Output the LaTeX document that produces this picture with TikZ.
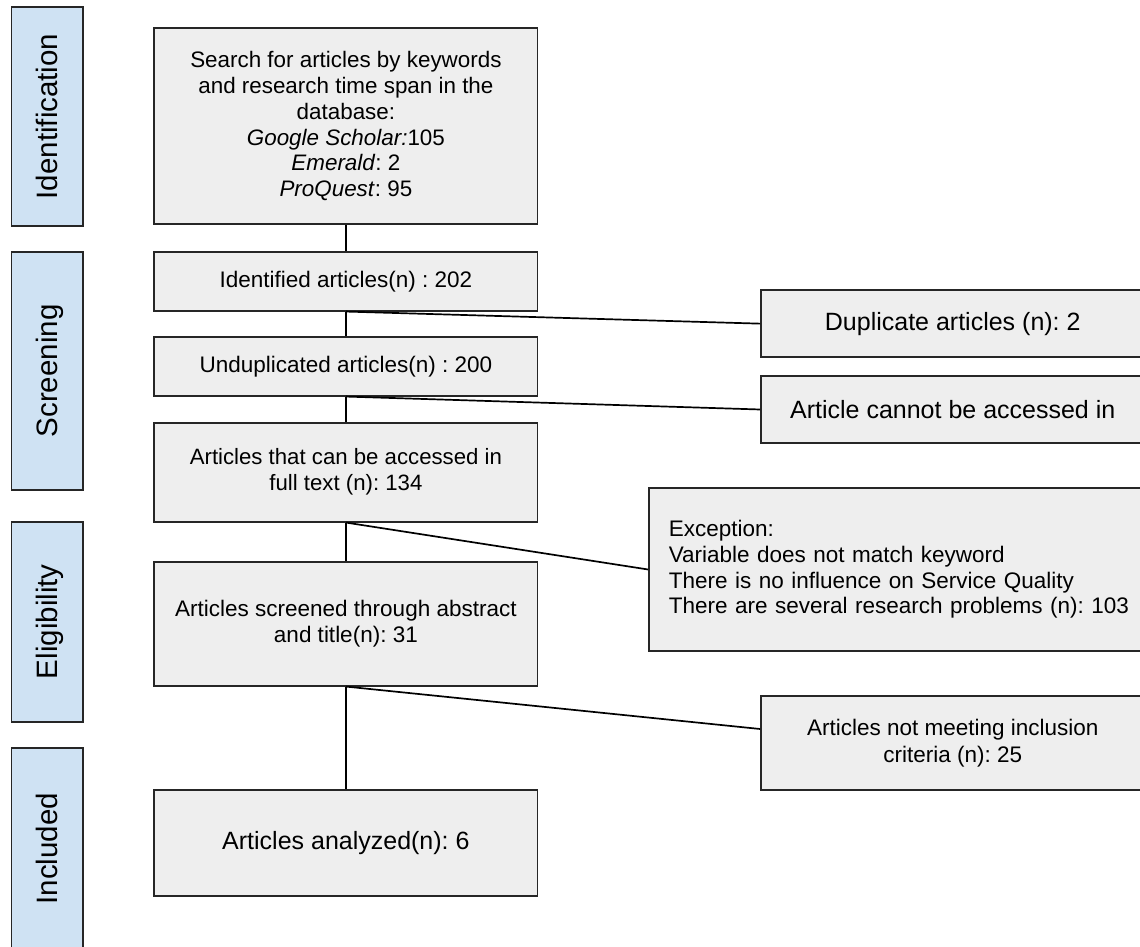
\documentclass[tikz,border=0pt]{standalone}
\usepackage{fontspec}
\setmainfont{Liberation Sans}
\frenchspacing
\definecolor{boxgray}{HTML}{EEEEEE}
\definecolor{sideblue}{HTML}{CFE2F3}
\definecolor{edgecol}{HTML}{262626}
\tikzset{
  mainbox/.style={draw=edgecol, line width=1.7pt, fill=boxgray, inner sep=0pt, align=center,
    minimum width=383.2pt, font=\fontsize{22.4}{25.7}\selectfont},
  rbox/.style={draw=edgecol, line width=1.7pt, fill=boxgray, inner sep=0pt, align=center,
    minimum width=383.5pt, font=\fontsize{22.5}{26.5}\selectfont},
  sidebox/.style={draw=edgecol, line width=1.7pt, fill=sideblue, inner sep=0pt, rotate=90,
    minimum height=71.5pt, text height=21pt, text depth=0pt, font=\fontsize{29.5}{34}\selectfont},
  link/.style={line width=1.7pt, black}
}
\begin{document}
\begin{tikzpicture}[x=1pt,y=-1pt]
\useasboundingbox (0,0) rectangle (1140,947);
\clip (0,0) rectangle (1140,947);

% phase labels
\node[sidebox, minimum width=219pt]   (sid) at (47.25,116.5) {Identification};
\node[sidebox, minimum width=238.3pt] (ssc) at (47.25,370.85) {Screening};
\node[sidebox, minimum width=200pt]   (sel) at (47.25,621.7) {Eligibility};
\node[sidebox, minimum width=200.7pt] (sin) at (47.25,848.6) {Included};

% main column
\node[mainbox, minimum height=196pt] (b1) at (345.9,126.2) {Search for articles by keywords\\ and research time span in the\\ database:\\ \textit{Google Scholar:}105\\ \textit{Emerald}: 2\\ \textit{ProQuest}: 95};
\node[mainbox, minimum height=59pt, font=\fontsize{22.5}{26}\selectfont] (b2) at (345.9,281.2) {Identified articles(n) : 202};
\node[mainbox, minimum height=58.4pt, font=\fontsize{22.5}{26}\selectfont] (b3) at (345.9,366.5) {Unduplicated articles(n) : 200};
\node[mainbox, minimum height=99pt, font=\fontsize{22.2}{26}\selectfont] (b4) at (345.9,472.2) {Articles that can be accessed in\\ full text (n): 134};
\node[mainbox, minimum height=124pt, font=\fontsize{22.5}{26.7}\selectfont] (b5) at (345.9,623.7) {Articles screened through abstract\\ and title(n): 31};
\node[mainbox, minimum height=106pt, font=\fontsize{25}{29}\selectfont] (b6) at (345.9,843) {Articles analyzed(n): 6};

% exclusion column
\node[rbox, minimum height=67.3pt, font=\fontsize{25}{29}\selectfont] (dup) at (952.75,323.65) {Duplicate articles (n): 2};
\node[rbox, minimum height=67pt, font=\fontsize{25}{29}\selectfont] (acc) at (952.75,409.5) {Article cannot be accessed in};
\node[rbox, align=left, inner xsep=19.8pt, text width=470pt, minimum width=509.6pt, minimum height=162.4pt,
      font=\fontsize{22.5}{25.7}\selectfont] (exc) at (903.8,569.5) {Exception:\\ Variable does not match keyword\\ There is no influence on Service Quality\\ There are several research problems (n): 103};
\node[rbox, minimum height=94pt, font=\fontsize{22.5}{26.6}\selectfont] (nm) at (952.75,743) {Articles not meeting inclusion\\ criteria (n): 25};

% connectors
\draw[link] (b1.south) -- (b2.north);
\draw[link] (b2.south) -- (b3.north);
\draw[link] (b3.south) -- (b4.north);
\draw[link] (b4.south) -- (b5.north);
\draw[link] (b5.south) -- (b6.north);
\draw[link] (b2.south) -- (dup.west);
\draw[link] (b3.south) -- (acc.west);
\draw[link] (b4.south) -- (exc.west);
\draw[link] (b5.south) -- ([yshift=14pt]nm.west);
\end{tikzpicture}
\end{document}
